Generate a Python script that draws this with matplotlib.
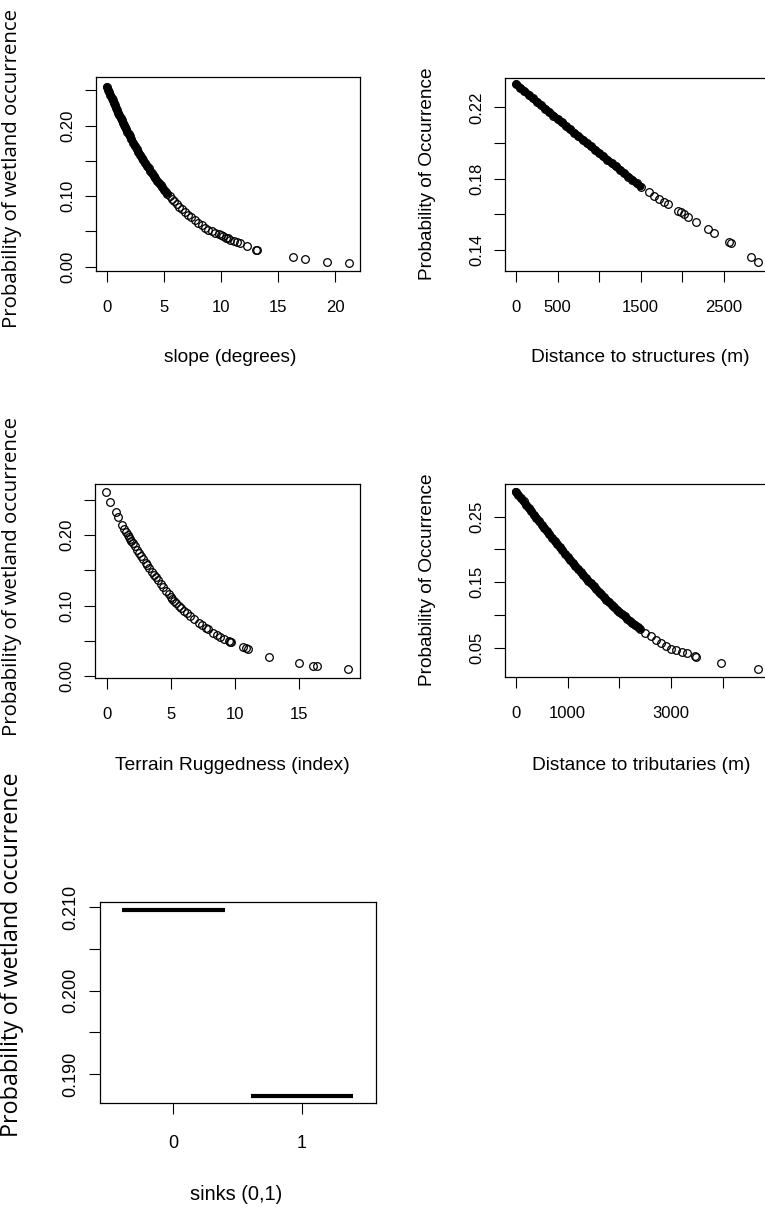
import matplotlib
matplotlib.use("Agg")
import matplotlib.pyplot as plt

plt.rcParams['font.family'] = ['Liberation Sans', 'DejaVu Sans']

# ---- data ----
slope_x = [0.0, 0.1, 0.2, 0.3, 0.4, 0.5, 0.6, 0.7, 0.8, 0.9, 1.0, 1.1, 1.2, 1.3, 1.4, 1.5,
           1.6, 1.7, 1.8, 1.9, 2.0, 2.15, 2.3, 2.45, 2.6, 2.75, 2.9, 3.05, 3.2, 3.35, 3.5,
           3.65, 3.8, 3.95, 4.1, 4.25, 4.4, 4.55, 4.7, 4.85, 5.0, 5.15, 5.3, 5.5, 5.7, 5.9,
           6.1, 6.35, 6.6, 6.85, 7.1, 7.4, 7.7, 8.0, 8.3, 8.6, 8.9, 9.2, 9.5, 9.8, 10.0,
           10.2, 10.4, 10.6, 10.8, 11.1, 11.4, 11.7, 12.3, 13.1, 13.2, 16.3, 17.4, 19.3, 21.2]
slope_p = [0.2550, 0.2511, 0.2473, 0.2435, 0.2398, 0.2360, 0.2323, 0.2287, 0.2251, 0.2216,
           0.2181, 0.2146, 0.2112, 0.2078, 0.2044, 0.2011, 0.1978, 0.1946, 0.1914, 0.1882,
           0.1851, 0.1805, 0.1760, 0.1716, 0.1673, 0.1630, 0.1589, 0.1548, 0.1508, 0.1469,
           0.1431, 0.1394, 0.1358, 0.1322, 0.1287, 0.1253, 0.1220, 0.1187, 0.1155, 0.1124,
           0.1094, 0.1064, 0.1035, 0.0998, 0.0962, 0.0927, 0.0893, 0.0852, 0.0813, 0.0776,
           0.0739, 0.0698, 0.0659, 0.0623, 0.0585, 0.0553, 0.0525, 0.0500, 0.0480, 0.0460,
           0.0445, 0.0430, 0.0410, 0.0400, 0.0385, 0.0365, 0.0345, 0.0330, 0.0300, 0.0240,
           0.0235, 0.0133, 0.0109, 0.0073, 0.0057]
slope_dense = 43   # points up to ~5.3 overlap into a solid band

struct_x = [0, 50, 100, 150, 200, 250, 300, 350, 400, 450, 500, 550, 600, 650, 700, 750,
            800, 850, 900, 950, 1000, 1050, 1100, 1150, 1200, 1250, 1300, 1350, 1400, 1450,
            1500, 1594, 1655, 1715, 1775, 1824, 1945, 1981, 2017, 2066, 2162, 2307, 2379,
            2560, 2585, 2826, 2910]
struct_p = [0.2330, 0.2310, 0.2290, 0.2271, 0.2251, 0.2231, 0.2212, 0.2192, 0.2173, 0.2153,
            0.2134, 0.2115, 0.2095, 0.2076, 0.2057, 0.2038, 0.2019, 0.2000, 0.1981, 0.1962,
            0.1943, 0.1924, 0.1905, 0.1887, 0.1868, 0.1849, 0.1830, 0.1811, 0.1792, 0.1773,
            0.1755, 0.1725, 0.1705, 0.1688, 0.1670, 0.1655, 0.1620, 0.1610, 0.1600, 0.1585,
            0.1558, 0.1515, 0.1495, 0.1445, 0.1438, 0.1360, 0.1335]
struct_dense = 31

tri_x = [-0.08, 0.23, 0.70, 0.85, 1.14, 1.30, 1.45, 1.60, 1.70, 1.80, 1.90, 2.00, 2.15, 2.30,
         2.50, 2.65, 2.80, 3.00, 3.15, 3.30, 3.50, 3.65, 3.80, 4.00, 4.20, 4.40, 4.60, 4.80,
         4.95, 5.10, 5.25, 5.40, 5.60, 5.80, 6.00, 6.20, 6.50, 6.80, 7.20, 7.40, 7.70, 7.90,
         8.30, 8.60, 8.80, 9.10, 9.50, 9.60, 9.70, 10.6, 10.8, 11.0, 12.6, 15.0, 16.1, 16.4, 18.8]
tri_p = [0.261, 0.246, 0.233, 0.226, 0.214, 0.209, 0.204, 0.200, 0.197, 0.194, 0.191, 0.188,
         0.184, 0.179, 0.174, 0.170, 0.166, 0.161, 0.157, 0.153, 0.148, 0.144, 0.141, 0.136,
         0.131, 0.126, 0.121, 0.116, 0.112, 0.109, 0.106, 0.104, 0.100, 0.097, 0.093, 0.090,
         0.085, 0.081, 0.076, 0.073, 0.069, 0.067, 0.062, 0.059, 0.056, 0.053, 0.050, 0.049,
         0.048, 0.042, 0.040, 0.038, 0.028, 0.019, 0.014, 0.014, 0.0104]

trib_x = [0, 50, 100, 150, 200, 250, 300, 350, 400, 450, 500, 550, 600, 650, 700, 750, 800,
          850, 900, 950, 1000, 1050, 1100, 1150, 1200, 1250, 1300, 1350, 1400, 1450, 1500,
          1550, 1600, 1650, 1700, 1750, 1800, 1850, 1900, 1950, 2000, 2050, 2100, 2150, 2200,
          2250, 2300, 2350, 2400, 2500, 2600, 2700, 2800, 2900, 3000, 3100, 3200, 3300, 3450,
          3480, 3950, 4680]
trib_p = [0.2880, 0.2830, 0.2781, 0.2731, 0.2681, 0.2631, 0.2581, 0.2530, 0.2480, 0.2430,
          0.2380, 0.2330, 0.2281, 0.2231, 0.2181, 0.2132, 0.2083, 0.2034, 0.1986, 0.1938,
          0.1891, 0.1844, 0.1797, 0.1750, 0.1704, 0.1659, 0.1614, 0.1570, 0.1526, 0.1483,
          0.1440, 0.1398, 0.1356, 0.1316, 0.1276, 0.1237, 0.1198, 0.1160, 0.1122, 0.1086,
          0.1050, 0.1015, 0.0980, 0.0947, 0.0914, 0.0882, 0.0850, 0.0820, 0.0790, 0.0733,
          0.0678, 0.0627, 0.0578, 0.0533, 0.0490, 0.0465, 0.0440, 0.0418, 0.0378, 0.0370,
          0.0272, 0.0181]
trib_dense = 49

sinks_levels = [0, 1]
sinks_p = [0.2097, 0.1874]

W, H = 765, 1209
fig = plt.figure(figsize=(W / 100, H / 100), dpi=100)
fig.patch.set_facecolor('white')
rend = fig.canvas.get_renderer()

def px_axes(l, t, r, b):
    return fig.add_axes([l / W, 1 - b / H, (r - l) / W, (b - t) / H])

def style(ax, xt, xl, yt, yl, fs):
    ax.set_xticks(xt)
    ax.set_xticklabels(xl)
    ax.set_yticks(yt)
    ax.set_yticklabels(yl, rotation=90, va='center')
    ax.tick_params(direction='out', length=8, width=0.8, labelsize=fs, colors='black')
    ax.tick_params(axis='x', pad=13)
    ax.tick_params(axis='y', pad=7)
    for sp in ax.spines.values():
        sp.set_linewidth(0.9)

def fit_size(s, fam, target):
    t = fig.text(0, 0, s, fontsize=12, family=fam)
    fig.canvas.draw()
    w = t.get_window_extent(renderer=fig.canvas.get_renderer()).width
    t.remove()
    return 12 * target / w

def pts(ax, x, y, dense=0):
    if dense:
        # many overlapping R circles merge into one solid stroke
        ax.plot(x[:dense], y[:dense], color='black', lw=5.5, solid_capstyle='round')
    ax.plot(x, y, 'o', mfc='none', mec='black', ms=5.5, mew=0.9)

# slope
ax1 = px_axes(96, 77, 360, 271)
pts(ax1, slope_x, slope_p, slope_dense)
ax1.set_xlim(-0.96, 22.19)
ax1.set_ylim(-0.0061, 0.269)
style(ax1, [0, 5, 10, 15, 20], ['0', '5', '10', '15', '20'],
      [0, 0.05, 0.10, 0.15, 0.20, 0.25], ['0.00', '', '0.10', '', '0.20', ''], 12)

# distance to structures
ax2 = px_axes(505, 78, 768, 271)
pts(ax2, struct_x, struct_p, struct_dense)
ax2.set_xlim(-133, 3031)
ax2.set_ylim(0.1282, 0.2364)
style(ax2, [0, 500, 1000, 1500, 2000, 2500], ['0', '500', '', '1500', '', '2500'],
      [0.14, 0.16, 0.18, 0.20, 0.22], ['0.14', '', '0.18', '', '0.22'], 12)

# terrain ruggedness
ax3 = px_axes(95, 484, 360, 678)
pts(ax3, tri_x, tri_p)
ax3.set_xlim(-0.94, 19.73)
ax3.set_ylim(-0.0023, 0.272)
style(ax3, [0, 5, 10, 15], ['0', '5', '10', '15'],
      [0, 0.05, 0.10, 0.15, 0.20, 0.25], ['0.00', '', '0.10', '', '0.20', ''], 12)

# distance to tributaries
ax4 = px_axes(505, 484, 768, 677)
pts(ax4, trib_x, trib_p, trib_dense)
ax4.set_xlim(-207, 4865)
ax4.set_ylim(0.0059, 0.2997)
style(ax4, [0, 1000, 2000, 3000, 4000], ['0', '1000', '', '3000', ''],
      [0.05, 0.10, 0.15, 0.20, 0.25], ['0.05', '', '0.15', '', '0.25'], 12)

# sinks
ax5 = px_axes(100, 902, 376, 1103)
for lev, p in zip(sinks_levels, sinks_p):
    ax5.plot([lev - 0.4, lev + 0.4], [p, p], color='black', lw=3, solid_capstyle='butt')
ax5.set_xlim(-0.571, 1.576)
ax5.set_ylim(0.18654, 0.2106)
style(ax5, [0, 1], ['0', '1'],
      [0.190, 0.195, 0.200, 0.205, 0.210], ['0.190', '', '0.200', '', '0.210'], 13)
ax5.tick_params(axis='x', pad=15)

# axis titles
arial = ['Liberation Sans', 'DejaVu Sans']
soft = ['Open Sans', 'DejaVu Sans']
left_lab = 'Probability of wetland occurrence'
right_lab = 'Probability of Occurrence'
fs_left5 = fit_size(left_lab, soft, 362)
fs_left = fs_left5 * 318 / 362
fs_right = fit_size(right_lab, arial, 215)

def ftext(x, y, s, fs, fam, rot=0):
    fig.text(x / W, 1 - y / H, s, fontsize=fs, family=fam, rotation=rot,
             ha='center', va='center', color='black')

ftext(12, 168, left_lab, fs_left, soft, 90)
ftext(12, 576, left_lab, fs_left, soft, 90)
ftext(12, 955, left_lab, fs_left5, soft, 90)
ftext(428, 174, right_lab, fs_right, arial, 90)
ftext(428, 580, right_lab, fs_right, arial, 90)

ftext(230, 358, 'slope (degrees)', 13.8, arial)
ftext(640, 358, 'Distance to structures (m)', 13.8, arial)
ftext(232, 765, 'Terrain Ruggedness (index)', 13.8, arial)
ftext(641, 765, 'Distance to tributaries (m)', 13.8, arial)
ftext(236, 1194, 'sinks (0,1)', 14.4, arial)

fig.savefig('out.png', dpi=100, facecolor='white')
